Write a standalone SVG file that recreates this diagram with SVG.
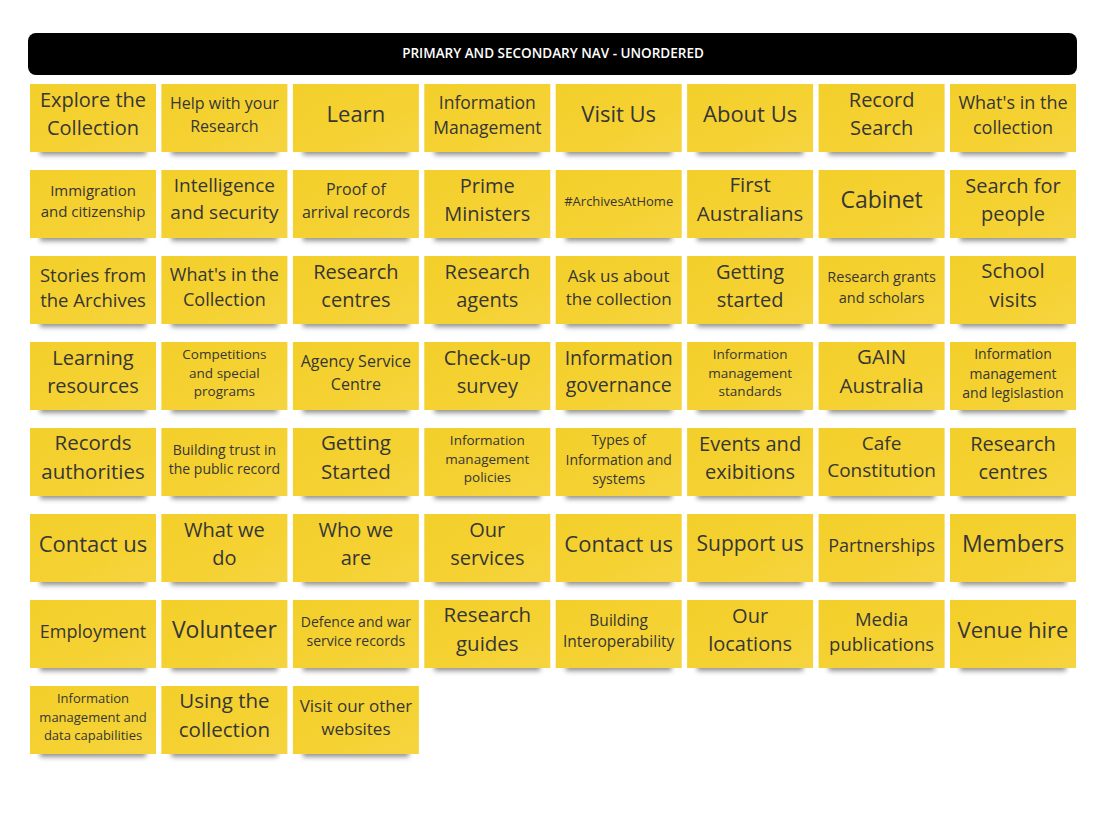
<svg xmlns="http://www.w3.org/2000/svg" width="1111" height="828" viewBox="0 0 1111 828">
<style>
.bg{fill:#ffffff}
.hdr{fill:#000000}
.htxt{font-family:"Open Sans","Liberation Sans",sans-serif;font-size:13.5px;font-weight:600;fill:#ffffff;text-anchor:middle;dominant-baseline:central}
.note{fill:url(#ng)}
.sh{fill:#3a3a3a;opacity:0.55;filter:url(#blur)}
.t{font-family:"Open Sans","Liberation Sans",sans-serif;fill:#363636;text-anchor:middle;dominant-baseline:central}
.L{transform:translateY(-2px)}
</style>
<defs>
<linearGradient id="ng" x1="0" y1="0" x2="1" y2="1">
<stop offset="0" stop-color="#f3cf2b"/>
<stop offset="0.6" stop-color="#f5d232"/>
<stop offset="1" stop-color="#f6d440"/>
</linearGradient>
<filter id="blur" x="-20%" y="-50%" width="140%" height="200%"><feGaussianBlur stdDeviation="2.5"/></filter>
<g id="base"><rect class="sh" x="10" y="56" width="106" height="15"/><rect class="note" x="0" y="0" width="126" height="68"/></g>
</defs>
<rect class="bg" x="0" y="0" width="1111" height="828"/>
<g id="header"><rect class="hdr" x="28" y="33" width="1049" height="42" rx="8"/><text class="htxt" x="553" y="53">PRIMARY AND SECONDARY NAV - UNORDERED</text></g>
<g id="connectors"></g>

<!-- Row 1 -->
<g id="n1" transform="translate(30,84)"><use href="#base"/><text class="t L" x="63" font-size="20"><tspan x="63" y="16.5">Explore the</tspan><tspan x="63" y="44.5">Collection</tspan></text></g>
<g id="n2" transform="translate(161.4,84)"><use href="#base"/><text class="t" x="63" font-size="16"><tspan x="63" y="19.3">Help with your</tspan><tspan x="63" y="41.7">Research</tspan></text></g>
<g id="n3" transform="translate(292.9,84)"><use href="#base"/><text class="t L" x="63" y="30.5" font-size="22">Learn</text></g>
<g id="n4" transform="translate(424.3,84)"><use href="#base"/><text class="t" x="63" font-size="17.5"><tspan x="63" y="18.25">Information</tspan><tspan x="63" y="42.75">Management</tspan></text></g>
<g id="n5" transform="translate(555.7,84)"><use href="#base"/><text class="t L" x="63" y="30.5" font-size="22">Visit Us</text></g>
<g id="n6" transform="translate(687.1,84)"><use href="#base"/><text class="t L" x="63" y="30.5" font-size="22">About Us</text></g>
<g id="n7" transform="translate(818.6,84)"><use href="#base"/><text class="t L" x="63" font-size="20"><tspan x="63" y="16.5">Record</tspan><tspan x="63" y="44.5">Search</tspan></text></g>
<g id="n8" transform="translate(950,84)"><use href="#base"/><text class="t" x="63" font-size="18"><tspan x="63" y="17.9">What's in the</tspan><tspan x="63" y="43.1">collection</tspan></text></g>

<!-- Row 2 -->
<g id="n9" transform="translate(30,170)"><use href="#base"/><text class="t" x="63" font-size="15"><tspan x="63" y="20">Immigration</tspan><tspan x="63" y="41">and citizenship</tspan></text></g>
<g id="n10" transform="translate(161.4,170)"><use href="#base"/><text class="t L" x="63" font-size="19"><tspan x="63" y="17.2">Intelligence</tspan><tspan x="63" y="43.8">and security</tspan></text></g>
<g id="n11" transform="translate(292.9,170)"><use href="#base"/><text class="t" x="63" font-size="16"><tspan x="63" y="19.3">Proof of</tspan><tspan x="63" y="41.7">arrival records</tspan></text></g>
<g id="n12" transform="translate(424.3,170)"><use href="#base"/><text class="t L" x="63" font-size="20"><tspan x="63" y="16.5">Prime</tspan><tspan x="63" y="44.5">Ministers</tspan></text></g>
<g id="n13" transform="translate(555.7,170)"><use href="#base"/><text class="t" x="63" y="30.5" font-size="13">#ArchivesAtHome</text></g>
<g id="n14" transform="translate(687.1,170)"><use href="#base"/><text class="t L" x="63" font-size="20.5"><tspan x="63" y="16.15">First</tspan><tspan x="63" y="44.85">Australians</tspan></text></g>
<g id="n15" transform="translate(818.6,170)"><use href="#base"/><text class="t L" x="63" y="30.5" font-size="23">Cabinet</text></g>
<g id="n16" transform="translate(950,170)"><use href="#base"/><text class="t L" x="63" font-size="20"><tspan x="63" y="16.5">Search for</tspan><tspan x="63" y="44.5">people</tspan></text></g>

<!-- Row 3 -->
<g id="n17" transform="translate(30,256)"><use href="#base"/><text class="t" x="63" font-size="18.5"><tspan x="63" y="17.55">Stories from</tspan><tspan x="63" y="43.45">the Archives</tspan></text></g>
<g id="n18" transform="translate(161.4,256)"><use href="#base"/><text class="t" x="63" font-size="18"><tspan x="63" y="17.9">What's in the</tspan><tspan x="63" y="43.1">Collection</tspan></text></g>
<g id="n19" transform="translate(292.9,256)"><use href="#base"/><text class="t L" x="63" font-size="20"><tspan x="63" y="16.5">Research</tspan><tspan x="63" y="44.5">centres</tspan></text></g>
<g id="n20" transform="translate(424.3,256)"><use href="#base"/><text class="t L" x="63" font-size="20"><tspan x="63" y="16.5">Research</tspan><tspan x="63" y="44.5">agents</tspan></text></g>
<g id="n21" transform="translate(555.7,256)"><use href="#base"/><text class="t" x="63" font-size="17"><tspan x="63" y="18.6">Ask us about</tspan><tspan x="63" y="42.4">the collection</tspan></text></g>
<g id="n22" transform="translate(687.1,256)"><use href="#base"/><text class="t L" x="63" font-size="20"><tspan x="63" y="16.5">Getting</tspan><tspan x="63" y="44.5">started</tspan></text></g>
<g id="n23" transform="translate(818.6,256)"><use href="#base"/><text class="t" x="63" font-size="14.5"><tspan x="63" y="20.35">Research grants</tspan><tspan x="63" y="40.65">and scholars</tspan></text></g>
<g id="n24" transform="translate(950,256)"><use href="#base"/><text class="t L" x="63" font-size="20.5"><tspan x="63" y="16.15">School</tspan><tspan x="63" y="44.85">visits</tspan></text></g>

<!-- Row 4 -->
<g id="n25" transform="translate(30,342)"><use href="#base"/><text class="t L" x="63" font-size="20"><tspan x="63" y="16.5">Learning</tspan><tspan x="63" y="44.5">resources</tspan></text></g>
<g id="n26" transform="translate(161.4,342)"><use href="#base"/><text class="t" x="63" font-size="13.5"><tspan x="63" y="11.6">Competitions</tspan><tspan x="63" y="30.5">and special</tspan><tspan x="63" y="49.4">programs</tspan></text></g>
<g id="n27" transform="translate(292.9,342)"><use href="#base"/><text class="t" x="63" font-size="16"><tspan x="63" y="19.3">Agency Service</tspan><tspan x="63" y="41.7">Centre</tspan></text></g>
<g id="n28" transform="translate(424.3,342)"><use href="#base"/><text class="t L" x="63" font-size="20"><tspan x="63" y="16.5">Check-up</tspan><tspan x="63" y="44.5">survey</tspan></text></g>
<g id="n29" transform="translate(555.7,342)"><use href="#base"/><text class="t L" x="63" font-size="19.5"><tspan x="63" y="16.85">Information</tspan><tspan x="63" y="44.15">governance</tspan></text></g>
<g id="n30" transform="translate(687.1,342)"><use href="#base"/><text class="t" x="63" font-size="13.5"><tspan x="63" y="11.6">Information</tspan><tspan x="63" y="30.5">management</tspan><tspan x="63" y="49.4">standards</tspan></text></g>
<g id="n31" transform="translate(818.6,342)"><use href="#base"/><text class="t L" x="63" font-size="20.5"><tspan x="63" y="16.15">GAIN</tspan><tspan x="63" y="44.85">Australia</tspan></text></g>
<g id="n32" transform="translate(950,342)"><use href="#base"/><text class="t" x="63" font-size="14"><tspan x="63" y="10.9">Information</tspan><tspan x="63" y="30.5">management</tspan><tspan x="63" y="50.1">and legislastion</tspan></text></g>

<!-- Row 5 -->
<g id="n33" transform="translate(30,428)"><use href="#base"/><text class="t L" x="63" font-size="20.5"><tspan x="63" y="16.15">Records</tspan><tspan x="63" y="44.85">authorities</tspan></text></g>
<g id="n34" transform="translate(161.4,428)"><use href="#base"/><text class="t" x="63" font-size="14"><tspan x="63" y="20.7">Building trust in</tspan><tspan x="63" y="40.3">the public record</tspan></text></g>
<g id="n35" transform="translate(292.9,428)"><use href="#base"/><text class="t L" x="63" font-size="20.5"><tspan x="63" y="16.15">Getting</tspan><tspan x="63" y="44.85">Started</tspan></text></g>
<g id="n36" transform="translate(424.3,428)"><use href="#base"/><text class="t" x="63" font-size="13.5"><tspan x="63" y="11.6">Information</tspan><tspan x="63" y="30.5">management</tspan><tspan x="63" y="49.4">policies</tspan></text></g>
<g id="n37" transform="translate(555.7,428)"><use href="#base"/><text class="t" x="63" font-size="14"><tspan x="63" y="10.9">Types of</tspan><tspan x="63" y="30.5">Information and</tspan><tspan x="63" y="50.1">systems</tspan></text></g>
<g id="n38" transform="translate(687.1,428)"><use href="#base"/><text class="t L" x="63" font-size="20"><tspan x="63" y="16.5">Events and</tspan><tspan x="63" y="44.5">exibitions</tspan></text></g>
<g id="n39" transform="translate(818.6,428)"><use href="#base"/><text class="t L" x="63" font-size="19"><tspan x="63" y="17.2">Cafe</tspan><tspan x="63" y="43.8">Constitution</tspan></text></g>
<g id="n40" transform="translate(950,428)"><use href="#base"/><text class="t L" x="63" font-size="20"><tspan x="63" y="16.5">Research</tspan><tspan x="63" y="44.5">centres</tspan></text></g>

<!-- Row 6 -->
<g id="n41" transform="translate(30,514)"><use href="#base"/><text class="t L" x="63" y="30.5" font-size="22">Contact us</text></g>
<g id="n42" transform="translate(161.4,514)"><use href="#base"/><text class="t L" x="63" font-size="20"><tspan x="63" y="16.5">What we</tspan><tspan x="63" y="44.5">do</tspan></text></g>
<g id="n43" transform="translate(292.9,514)"><use href="#base"/><text class="t L" x="63" font-size="20"><tspan x="63" y="16.5">Who we</tspan><tspan x="63" y="44.5">are</tspan></text></g>
<g id="n44" transform="translate(424.3,514)"><use href="#base"/><text class="t L" x="63" font-size="20"><tspan x="63" y="16.5">Our</tspan><tspan x="63" y="44.5">services</tspan></text></g>
<g id="n45" transform="translate(555.7,514)"><use href="#base"/><text class="t L" x="63" y="30.5" font-size="22">Contact us</text></g>
<g id="n46" transform="translate(687.1,514)"><use href="#base"/><text class="t L" x="63" y="30.5" font-size="21">Support us</text></g>
<g id="n47" transform="translate(818.6,514)"><use href="#base"/><text class="t" x="63" y="30.5" font-size="18">Partnerships</text></g>
<g id="n48" transform="translate(950,514)"><use href="#base"/><text class="t L" x="63" y="30.5" font-size="23">Members</text></g>

<!-- Row 7 -->
<g id="n49" transform="translate(30,600)"><use href="#base"/><text class="t" x="63" y="30.5" font-size="18">Employment</text></g>
<g id="n50" transform="translate(161.4,600)"><use href="#base"/><text class="t L" x="63" y="30.5" font-size="23">Volunteer</text></g>
<g id="n51" transform="translate(292.9,600)"><use href="#base"/><text class="t" x="63" font-size="14"><tspan x="63" y="20.7">Defence and war</tspan><tspan x="63" y="40.3">service records</tspan></text></g>
<g id="n52" transform="translate(424.3,600)"><use href="#base"/><text class="t L" x="63" font-size="20.5"><tspan x="63" y="16.15">Research</tspan><tspan x="63" y="44.85">guides</tspan></text></g>
<g id="n53" transform="translate(555.7,600)"><use href="#base"/><text class="t" x="63" font-size="15.5"><tspan x="63" y="19.65">Building</tspan><tspan x="63" y="41.35">Interoperability</tspan></text></g>
<g id="n54" transform="translate(687.1,600)"><use href="#base"/><text class="t L" x="63" font-size="20"><tspan x="63" y="16.5">Our</tspan><tspan x="63" y="44.5">locations</tspan></text></g>
<g id="n55" transform="translate(818.6,600)"><use href="#base"/><text class="t" x="63" font-size="18.5"><tspan x="63" y="17.55">Media</tspan><tspan x="63" y="43.45">publications</tspan></text></g>
<g id="n56" transform="translate(950,600)"><use href="#base"/><text class="t L" x="63" y="30.5" font-size="22">Venue hire</text></g>

<!-- Row 8 -->
<g id="n57" transform="translate(30,686)"><use href="#base"/><text class="t" x="63" font-size="13"><tspan x="63" y="12.3">Information</tspan><tspan x="63" y="30.5">management and</tspan><tspan x="63" y="48.7">data capabilities</tspan></text></g>
<g id="n58" transform="translate(161.4,686)"><use href="#base"/><text class="t L" x="63" font-size="20.5"><tspan x="63" y="16.15">Using the</tspan><tspan x="63" y="44.85">collection</tspan></text></g>
<g id="n59" transform="translate(292.9,686)"><use href="#base"/><text class="t" x="63" font-size="17"><tspan x="63" y="18.6">Visit our other</tspan><tspan x="63" y="42.4">websites</tspan></text></g>
</svg>
